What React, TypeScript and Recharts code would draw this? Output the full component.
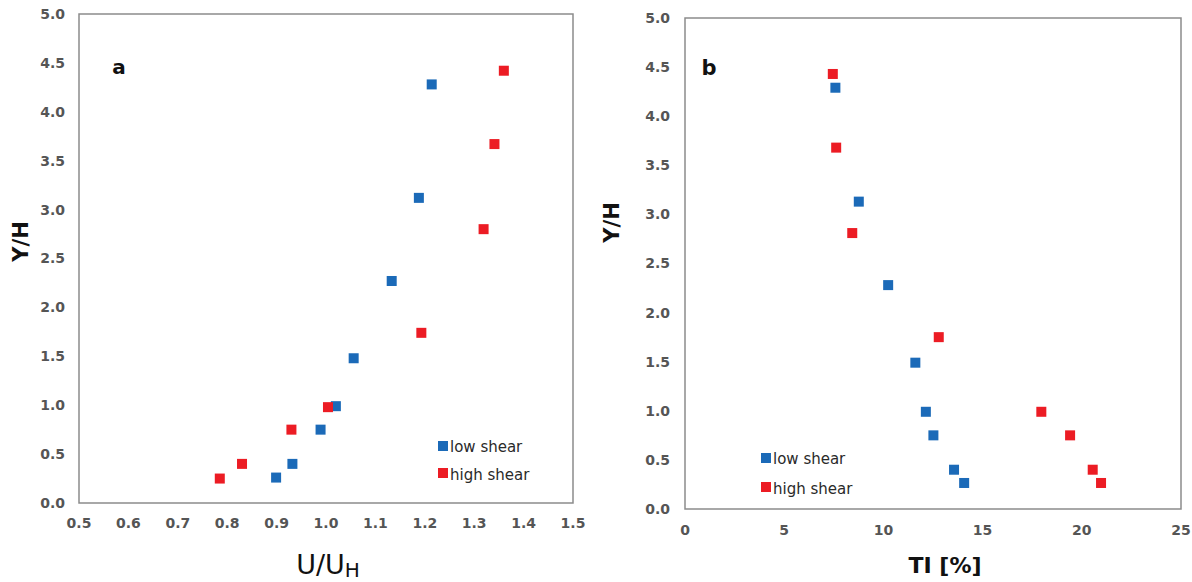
import React from 'react';
import { ScatterChart, Scatter, XAxis, YAxis, ReferenceArea, Legend } from 'recharts';

// ---- data ----
const seriesNames = ['low shear', 'high shear'];
const seriesColors = ['#1b6ab8', '#ec1c24'];

const yTicks = [0, 0.5, 1, 1.5, 2, 2.5, 3, 3.5, 4, 4.5, 5];
const uTicks = [0.5, 0.6, 0.7, 0.8, 0.9, 1.0, 1.1, 1.2, 1.3, 1.4, 1.5];
const tiTicks = [0, 5, 10, 15, 20, 25];

// panel a: U/UH vs Y/H
const uLow = [1.214, 1.188, 1.133, 1.056, 1.02, 0.989, 0.932, 0.899];
const yLowA = [4.28, 3.12, 2.27, 1.48, 0.99, 0.75, 0.4, 0.26];
const uHigh = [1.36, 1.341, 1.319, 1.193, 1.004, 0.93, 0.83, 0.785];
const yHighA = [4.42, 3.67, 2.8, 1.74, 0.98, 0.75, 0.4, 0.25];

// panel b: TI [%] vs Y/H
const tiLow = [7.58, 8.76, 10.24, 11.61, 12.14, 12.52, 13.56, 14.07];
const yLowB = [4.29, 3.13, 2.28, 1.49, 0.99, 0.75, 0.4, 0.265];
const tiHigh = [7.45, 7.62, 8.43, 12.79, 17.96, 19.41, 20.55, 20.97];
const yHighB = [4.43, 3.68, 2.81, 1.75, 0.99, 0.75, 0.4, 0.265];

const zip = (xs: number[], ys: number[]) => xs.map((x, i) => ({ x, y: ys[i] }));

const tickStyle = { fill: '#555555', fontSize: 14, fontFamily: 'DejaVu Sans', fontWeight: 'bold' as const };
const FRAME = '#8c8c8c';

const squareShape = (color: string) => (props: any) => (
  <rect x={props.cx - 5} y={props.cy - 5} width={10} height={10} fill={color} />
);

const makeLegend = (rowH: number) => (props: any) => {
  const payload = [...(props.payload || [])].sort(
    (a: any, b: any) => seriesNames.indexOf(a.value) - seriesNames.indexOf(b.value)
  );
  return (
    <div style={{ fontFamily: 'DejaVu Sans', fontSize: 15, color: '#2a2a2a' }}>
      {payload.map((entry: any, i: number) => (
        <div key={i} style={{ display: 'flex', alignItems: 'center', height: rowH, whiteSpace: 'nowrap' }}>
          <span style={{ display: 'inline-block', width: 10, height: 10, background: entry.color, marginRight: 2 }} />
          <span style={{ lineHeight: '15px', position: 'relative', top: 2 }}>{entry.value}</span>
        </div>
      ))}
    </div>
  );
};

function PanelA() {
  return (
    <ScatterChart width={596} height={582} margin={{ top: 14, right: 23, left: 0, bottom: 0 }}>
      <XAxis
        type="number"
        dataKey="x"
        domain={[0.5, 1.5]}
        ticks={uTicks}
        interval={0}
        tickFormatter={(v: number) => v.toFixed(1)}
        axisLine={false}
        tickLine={false}
        tickMargin={9}
        height={79}
        tick={tickStyle}
        allowDataOverflow
        label={{
          content: () => (
            <text x={328} y={574} textAnchor="middle" fontSize={27} fontFamily="DejaVu Sans" fill="#111">
              U/U<tspan fontSize={20} dy={3}>H</tspan>
            </text>
          ),
        }}
      />
      <YAxis
        type="number"
        dataKey="y"
        domain={[0, 5]}
        ticks={yTicks}
        interval={0}
        tickFormatter={(v: number) => v.toFixed(1)}
        axisLine={false}
        tickLine={false}
        tickMargin={8}
        width={79}
        tick={tickStyle}
        allowDataOverflow
        label={{
          content: () => (
            <g>
              <text transform="translate(27.5, 241.5) rotate(-90)" x={0} y={0} textAnchor="middle" fontSize={21} fontWeight="bold" fontFamily="DejaVu Sans" fill="#111">
                Y/H
              </text>
              <text x={119} y={74} textAnchor="middle" fontSize={20} fontWeight="bold" fontFamily="DejaVu Sans" fill="#111">
                a
              </text>
            </g>
          ),
        }}
      />
      <ReferenceArea x1={0.5} x2={1.5} y1={0} y2={5} fill="none" stroke={FRAME} strokeWidth={1.5} ifOverflow="visible" />
      <Scatter name={seriesNames[0]} data={zip(uLow, yLowA)} fill={seriesColors[0]} shape={squareShape(seriesColors[0])} isAnimationActive={false} />
      <Scatter name={seriesNames[1]} data={zip(uHigh, yHighA)} fill={seriesColors[1]} shape={squareShape(seriesColors[1])} isAnimationActive={false} />
      <Legend
        layout="vertical"
        align="center"
        verticalAlign="middle"
        content={makeLegend(27.5)}
        wrapperStyle={{ left: 438, top: 432, width: 'auto' }}
      />
    </ScatterChart>
  );
}

function PanelB() {
  return (
    <ScatterChart width={596} height={582} margin={{ top: 18, right: 11, left: 0, bottom: 0 }}>
      <XAxis
        type="number"
        dataKey="x"
        domain={[0, 25]}
        ticks={tiTicks}
        interval={0}
        axisLine={false}
        tickLine={false}
        tickMargin={10}
        height={73}
        tick={tickStyle}
        allowDataOverflow
        label={{
          content: () => (
            <text x={349} y={573} textAnchor="middle" fontSize={22} fontWeight="bold" fontFamily="DejaVu Sans" fill="#111">
              TI [%]
            </text>
          ),
        }}
      />
      <YAxis
        type="number"
        dataKey="y"
        domain={[0, 5]}
        ticks={yTicks}
        interval={0}
        tickFormatter={(v: number) => v.toFixed(1)}
        axisLine={false}
        tickLine={false}
        tickMargin={9}
        width={89}
        tick={tickStyle}
        allowDataOverflow
        label={{
          content: () => (
            <g>
              <text transform="translate(23, 222.5) rotate(-90)" x={0} y={0} textAnchor="middle" fontSize={21} fontWeight="bold" fontFamily="DejaVu Sans" fill="#111">
                Y/H
              </text>
              <text x={113} y={75} textAnchor="middle" fontSize={21} fontWeight="bold" fontFamily="DejaVu Sans" fill="#111">
                b
              </text>
            </g>
          ),
        }}
      />
      <ReferenceArea x1={0} x2={25} y1={0} y2={5} fill="none" stroke={FRAME} strokeWidth={1.5} ifOverflow="visible" />
      <Scatter name={seriesNames[0]} data={zip(tiLow, yLowB)} fill={seriesColors[0]} shape={squareShape(seriesColors[0])} isAnimationActive={false} />
      <Scatter name={seriesNames[1]} data={zip(tiHigh, yHighB)} fill={seriesColors[1]} shape={squareShape(seriesColors[1])} isAnimationActive={false} />
      <Legend
        layout="vertical"
        align="center"
        verticalAlign="middle"
        content={makeLegend(29.5)}
        wrapperStyle={{ left: 165, top: 443, width: 'auto' }}
      />
    </ScatterChart>
  );
}

export default function App() {
  return (
    <div style={{ position: 'absolute', left: 0, top: 0, width: 1192, height: 582, background: '#fff', overflow: 'hidden' }}>
      <div style={{ position: 'absolute', left: 0, top: 0 }}>
        <PanelA />
      </div>
      <div style={{ position: 'absolute', left: 596, top: 0 }}>
        <PanelB />
      </div>
    </div>
  );
}
